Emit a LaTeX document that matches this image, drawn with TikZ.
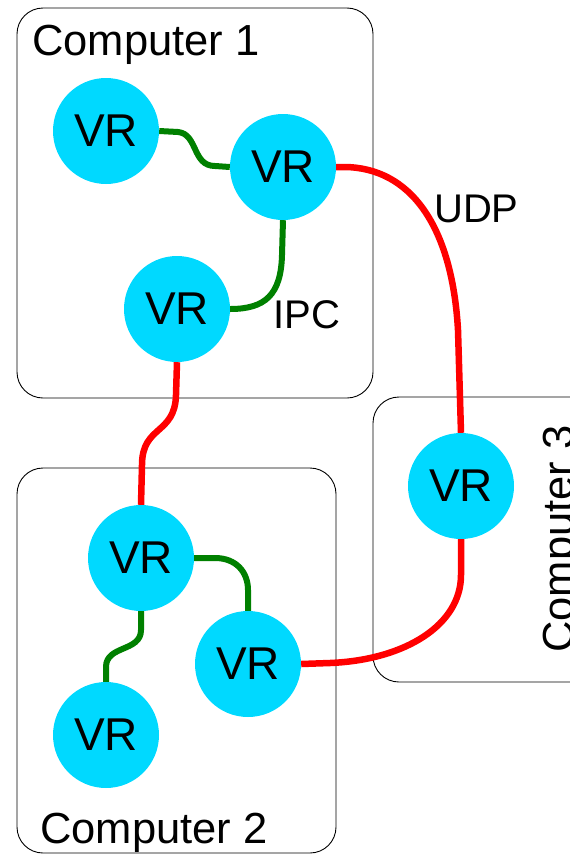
\documentclass[tikz,border=0pt]{standalone}
\usepackage{fontspec}
\setmainfont{Liberation Sans}
\definecolor{vrfill}{RGB}{0,217,255}
\definecolor{ipcgreen}{RGB}{0,128,0}
\definecolor{udpred}{RGB}{255,0,0}
\begin{document}
\begin{tikzpicture}[x=1pt,y=-1pt,
  vr/.style={circle,fill=vrfill,minimum size=106pt,inner sep=0pt,
    font=\fontsize{46}{46}\selectfont},
  host/.style={draw=black,line width=0.9pt,rounded corners=26pt},
  hostname/.style={inner sep=0pt,font=\fontsize{43.5}{43.5}\selectfont},
  linkname/.style={inner sep=0pt,font=\fontsize{40}{40}\selectfont},
  ipc/.style={draw=ipcgreen,line width=6pt},
  udp/.style={draw=udpred,line width=6.5pt}]
\useasboundingbox (0,0) rectangle (570,854);
\clip (0,0) rectangle (570,854);

% host machines
\draw[host] (17,8) rectangle (373,398);
\draw[host] (17,468) rectangle (336,853);
\draw[host] (373,397) rectangle (620,682);
\node[hostname,anchor=base west] (c1) at (32,55) {Computer 1};
\node[hostname,anchor=base west] (c2) at (40,843) {Computer 2};
\node[hostname,anchor=base west,rotate=90] (c3) at (573,653) {Computer 3};

% link labels
\node[linkname,anchor=base west] (ipc) at (273,328) {IPC};
\node[linkname,anchor=base west] (udp) at (434,222) {UDP};

% virtual routers
\node[vr] (a1) at (106,131) {VR};
\node[vr] (a2) at (283,167) {VR};
\node[vr] (a3) at (177,309) {VR};
\node[vr] (b1) at (141,558) {VR};
\node[vr] (b2) at (248,664) {VR};
\node[vr] (b3) at (106,735) {VR};
\node[vr] (d1) at (461,486) {VR};

% local IPC links
\draw[ipc] (a1.east) -- (178,132) .. controls (198,134) and (192,166) .. (215,166) -- (a2.west);
\draw[ipc] (a2.south) -- (282,255) .. controls (281,295) and (265,309) .. (a3.east);
\draw[ipc] (b1.east) -- (215,558) .. controls (236,558) and (248,572) .. (248,590) -- (b2.north);
\draw[ipc] (b1.south) -- (141,630) .. controls (141,652) and (106,645) .. (106,667) -- (b3.north);

% UDP links between machines
\draw[udp] (a2.east) -- (345,167) .. controls (410,168) and (452,225) .. (458,330) -- (d1.north);
\draw[udp] (a3.south) -- (176,395) .. controls (175,435) and (142,425) .. (142,465) -- (b1.north);
\draw[udp] (b2.east) -- (330,663) .. controls (405,660) and (461,625) .. (461,575) -- (d1.south);
\end{tikzpicture}
\end{document}
